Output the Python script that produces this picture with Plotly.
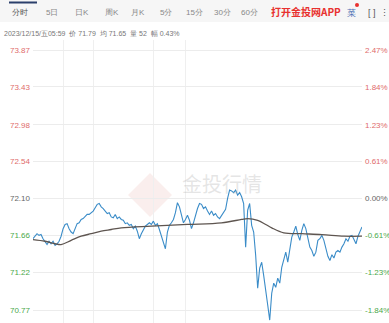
import plotly.graph_objects as go

# ---- data ----
price = [71.62, 71.65, 71.68, 71.66, 71.67, 71.62, 71.59, 71.55, 71.59, 71.56,
         71.59, 71.54, 71.56, 71.59, 71.65, 71.74, 71.79, 71.80, 71.74, 71.70,
         71.68, 71.75, 71.80, 71.81, 71.85, 71.86, 71.88, 71.91, 71.91, 71.93,
         71.95, 71.99, 72.03, 72.04, 72.00, 71.98, 71.95, 71.92, 71.93, 71.88,
         71.87, 71.91, 71.86, 71.88, 71.85, 71.84, 71.80, 71.81, 71.78, 71.79,
         71.74, 71.77, 71.71, 71.62, 71.68, 71.73, 71.77, 71.79, 71.81, 71.79,
         71.83, 71.78, 71.80, 71.73, 71.65, 71.58, 71.50, 71.70, 71.78, 71.81,
         71.85, 71.93, 72.05, 72.00, 71.90, 71.81, 71.85, 71.90, 71.84, 71.74,
         71.81, 71.91, 71.98, 72.04, 72.03, 71.98, 72.00, 71.95, 71.91, 71.95,
         71.90, 71.92, 71.88, 71.86, 71.90, 71.93, 71.97, 72.10, 72.20, 72.19,
         72.17, 72.20, 72.14, 72.17, 72.12, 72.04, 71.52, 71.96, 72.04, 71.78,
         71.70, 71.42, 71.03, 71.27, 71.34, 71.18, 71.03, 70.83, 70.65, 70.97,
         71.09, 71.04, 71.15, 71.09, 71.28, 71.39, 71.46, 71.34, 71.48, 71.64,
         71.70, 71.77, 71.67, 71.60, 71.72, 71.80, 71.74, 71.62, 71.52, 71.48,
         71.41, 71.46, 71.60, 71.62, 71.66, 71.60, 71.50, 71.41, 71.36, 71.43,
         71.39, 71.46, 71.48, 71.46, 71.52, 71.56, 71.62, 71.59, 71.65, 71.66,
         71.61, 71.56, 71.65, 71.70, 71.76]
minute_idx = list(range(len(price)))

avg_idx = [0, 6, 11, 14, 19, 24, 29, 34, 39, 44, 59, 77, 94, 104, 107, 112,
           116, 119, 125, 134, 144, 155, 164]
avg_price = [71.61, 71.59, 71.56, 71.55, 71.60, 71.65, 71.68, 71.71, 71.73,
             71.75, 71.77, 71.79, 71.81, 71.85, 71.86, 71.84, 71.79, 71.75,
             71.69, 71.68, 71.67, 71.65, 71.65]

price_ticks = [73.87, 73.43, 72.98, 72.54, 72.10, 71.66, 71.22, 70.77]
price_labels = ["73.87", "73.43", "72.98", "72.54", "72.10", "71.66", "71.22", "70.77"]
pct_labels = ["2.47%", "1.84%", "1.23%", "0.61%", "0.00%", "-0.61%", "-1.23%", "-1.84%"]
grid_idx = [15, 30, 60, 76]

tabs = ["分时", "5日", "日K", "周K", "月K", "5分", "15分", "30分", "60分"]
tab_x = [20, 52, 82, 112, 138, 166, 194, 222, 249]
info_text = "2023/12/15/五05:59  价 71.79  均 71.65  量 52  幅 0.43%"

RED, GREEN, GREY = "#e06b6b", "#4aa84a", "#666666"


def colored(labels, ticks, base=72.10):
    out = []
    for lab, v in zip(labels, ticks):
        c = RED if v > base + 1e-9 else (GREEN if v < base - 1e-9 else GREY)
        out.append(f'<span style="color:{c}">{lab}</span>')
    return out


W, H = 389, 323
ML, MR, MT, MB = 33, 27, 40, 0
PW, PH = W - ML - MR, H - MT - MB


def px(x):
    return (x - ML) / PW


def py(y):
    return (H - MB - y) / PH


fig = go.Figure()
fig.add_trace(go.Scatter(x=minute_idx, y=price, mode="lines",
                         line=dict(color="#3a8cc8", width=1.1), hoverinfo="skip"))
fig.add_trace(go.Scatter(x=avg_idx, y=avg_price, mode="lines",
                         line=dict(color="#5e5550", width=1.3, shape="spline"),
                         hoverinfo="skip"))
fig.add_trace(go.Scatter(x=[0], y=[72.10], yaxis="y2", mode="markers",
                         marker=dict(opacity=0), hoverinfo="skip"))

yr = [70.615, 73.99]
fig.update_layout(
    width=W, height=H, margin=dict(l=ML, r=MR, t=MT, b=MB),
    paper_bgcolor="white", plot_bgcolor="white", showlegend=False,
    font=dict(family="Liberation Sans, Arial", size=8, color=GREY),
    xaxis=dict(range=[0, len(price) - 1], tickvals=grid_idx, showticklabels=False,
               showgrid=True, gridcolor="#efefef", gridwidth=1, zeroline=False,
               showline=False, ticks=""),
    yaxis=dict(range=yr, tickvals=price_ticks, ticktext=colored(price_labels, price_ticks),
               showgrid=True, gridcolor="#ececec", gridwidth=1, zeroline=False,
               showline=False, ticks="", ticklabelstandoff=2,
               tickfont=dict(size=8)),
    yaxis2=dict(range=yr, overlaying="y", side="right", tickvals=price_ticks,
                ticktext=colored(pct_labels, price_ticks), showgrid=False,
                zeroline=False, showline=False, ticks="", ticklabelstandoff=2,
                tickfont=dict(size=8)),
)

shapes = [
    dict(type="rect", xref="paper", yref="paper", x0=px(0), x1=px(W), y0=py(22), y1=py(0),
         fillcolor="#f6f6f6", line=dict(width=0), layer="below"),
    dict(type="rect", xref="paper", yref="paper", x0=px(9), x1=px(37), y0=py(3.5), y1=py(1.5),
         fillcolor="#2b3f6b", line=dict(width=0)),
    dict(type="path", xref="paper", yref="paper",
         path=f"M{px(150)},{py(173)} L{px(172)},{py(195)} L{px(150)},{py(217)} L{px(128)},{py(195)} Z",
         fillcolor="rgba(225,150,140,0.16)", line=dict(width=0), layer="below"),
    dict(type="circle", xref="paper", yref="paper", x0=px(355), x1=px(359), y0=py(7), y1=py(3),
         fillcolor="#e8312f", line=dict(width=0)),
]
fig.update_layout(shapes=shapes)

ann = []
for t, x in zip(tabs, tab_x):
    ann.append(dict(text=t, x=px(x), y=py(13), xref="paper", yref="paper",
                    showarrow=False, font=dict(size=8, color="#555" if t == "分时" else "#888"),
                    xanchor="center", yanchor="middle"))
ann.append(dict(text="<b>打开金投网APP</b>", x=px(306), y=py(12), xref="paper", yref="paper",
                showarrow=False, font=dict(size=10, color="#e8312f",
                                           family="Noto Sans CJK SC"),
                xanchor="center", yanchor="middle"))
ann.append(dict(text="菜", x=px(351), y=py(13), xref="paper", yref="paper", showarrow=False,
                font=dict(size=9, color="#4a6fb5"), xanchor="center", yanchor="middle"))
ann.append(dict(text="[ ]", x=px(372), y=py(13), xref="paper", yref="paper", showarrow=False,
                font=dict(size=9, color="#555"), xanchor="center", yanchor="middle"))
ann.append(dict(text="⋮", x=px(384), y=py(13), xref="paper", yref="paper", showarrow=False,
                font=dict(size=9, color="#555"), xanchor="center", yanchor="middle"))
ann.append(dict(text=info_text, x=px(2), y=py(33), xref="paper", yref="paper", showarrow=False,
                font=dict(size=7, color="#777"), xanchor="left", yanchor="middle"))
ann.append(dict(text="金投行情", x=px(222), y=py(183), xref="paper", yref="paper",
                showarrow=False, font=dict(size=20, color="rgba(180,180,180,0.35)",
                                           family="Noto Sans CJK SC"),
                xanchor="center", yanchor="middle"))
fig.update_layout(annotations=ann)

fig.write_html("out.html")
